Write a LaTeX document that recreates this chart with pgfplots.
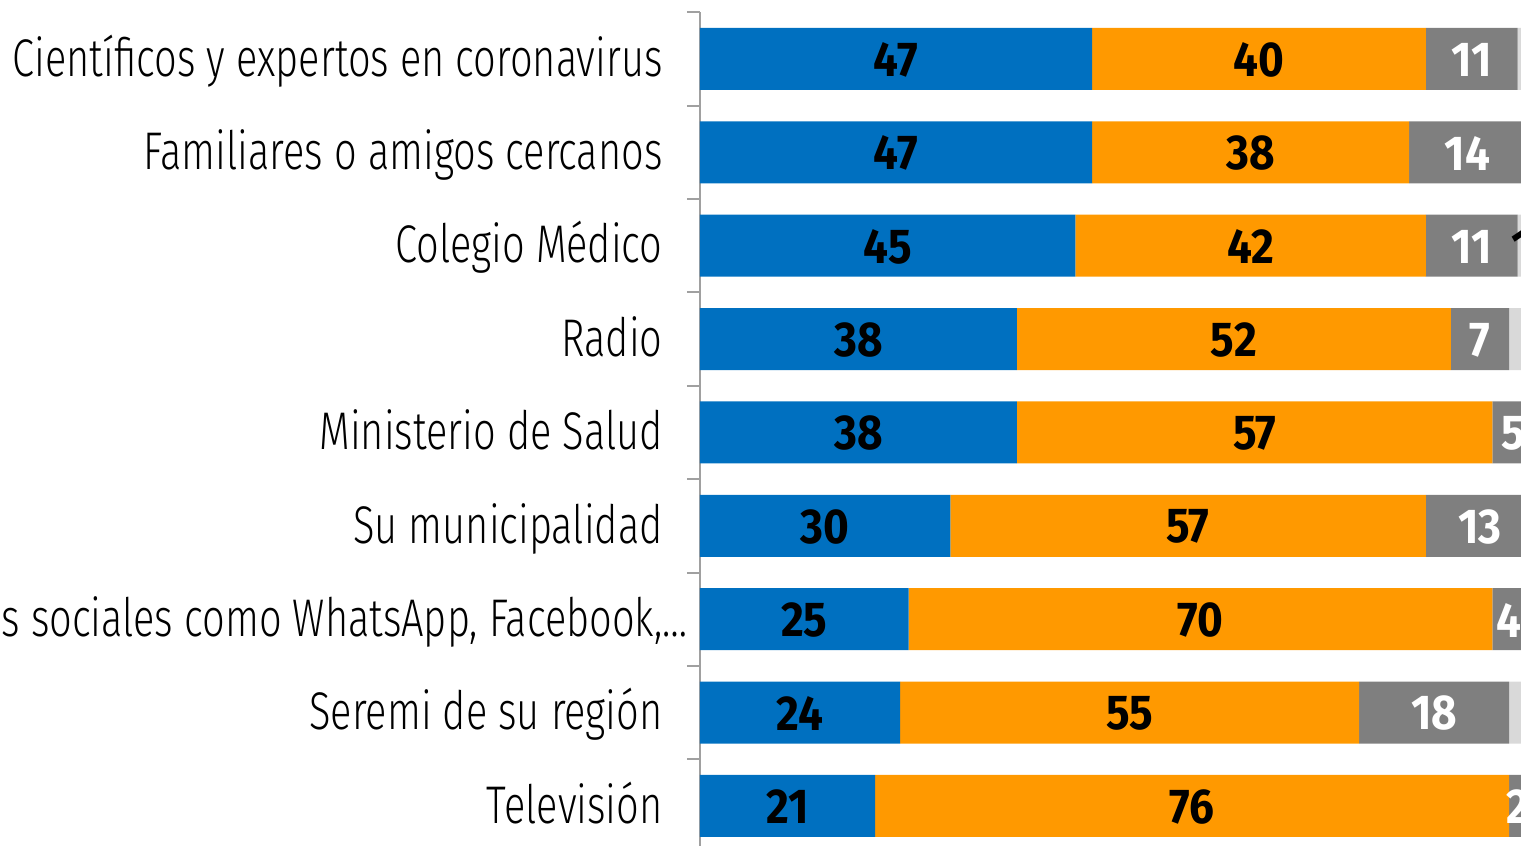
\documentclass[border=0pt]{standalone}
\usepackage{fontspec}
\usepackage{pgfplots}
\usepackage{pgfplotstable}
\pgfplotsset{compat=1.18}

\newfontfamily\lab{Fira Sans Light}[FakeStretch=0.75]
\newfontfamily\num{Fira Sans}[FakeStretch=0.9]

\definecolor{cblue}{HTML}{0070C0}
\definecolor{corange}{HTML}{FF9900}
\definecolor{cgray}{HTML}{7F7F7F}
\definecolor{clight}{HTML}{D9D9D9}
\definecolor{axisgray}{HTML}{A0A0A0}

% y: row (0 = top); a..d: segments; dl: label of the last segment
\pgfplotstableread{
y a  b  c  d dl
0 47 40 11 2 {}
1 47 38 14 1 {}
2 45 42 11 1 1
3 38 52 7  3 {}
4 38 57 5  0 {}
5 30 57 13 0 {}
6 25 70 4  1 {}
7 24 55 18 3 {}
8 21 76 2  1 {}
}\data

\begin{document}
\begin{tikzpicture}
\begin{axis}[
  xbar stacked, bar width=31pt,
  x=4.171pt, y=46.6875pt,
  xmin=0, xmax=100, ymin=-0.5, ymax=8.5, y dir=reverse,
  axis x line=none, axis y line*=left,
  axis line style={draw=axisgray, line width=1pt},
  ytick={0,...,8},
  yticklabels={Científicos y expertos en coronavirus, Familiares o amigos cercanos,
    Colegio Médico, Radio, Ministerio de Salud, Su municipalidad,
    {Redes sociales como WhatsApp, Facebook,…\hspace*{-12.5pt}},
    Seremi de su región, Televisión},
  minor ytick={-0.5,0.5,...,7.5},
  major tick length=0pt, minor tick length=6.5pt, tick align=outside,
  minor tick style={draw=axisgray, line width=1pt},
  yticklabel style={font=\lab\fontsize{26.5}{28}\selectfont, anchor=base east,
    inner sep=0pt, xshift=-18.5pt, yshift=-8.6pt},
  point meta=explicit symbolic,
  nodes near coords={\pgfplotspointmeta},
  % stacked bars: the labels already sit in the middle of each segment
  every node near coord/.append style={font=\num\bfseries\fontsize{24.5}{26}\selectfont,
    anchor=center, yshift=-0.4pt},
  clip=false,
]
\addplot[fill=cblue, draw=none] table[x=a, y=y, meta=a] {\data};
\addplot[fill=corange, draw=none] table[x=b, y=y, meta=b] {\data};
\addplot[fill=cgray, draw=none, every node near coord/.append style={text=white}]
  table[x=c, y=y, meta=c] {\data};
\addplot[fill=clight, draw=none] table[x=d, y=y, meta=dl] {\data};
\coordinate (O) at (axis cs:0,-0.5);
\end{axis}
\pgfresetboundingbox
\path[use as bounding box] ([shift={(-350pt,6.15pt)}]O) rectangle ([shift={(410.5pt,-416.85pt)}]O);
\end{tikzpicture}
\end{document}
